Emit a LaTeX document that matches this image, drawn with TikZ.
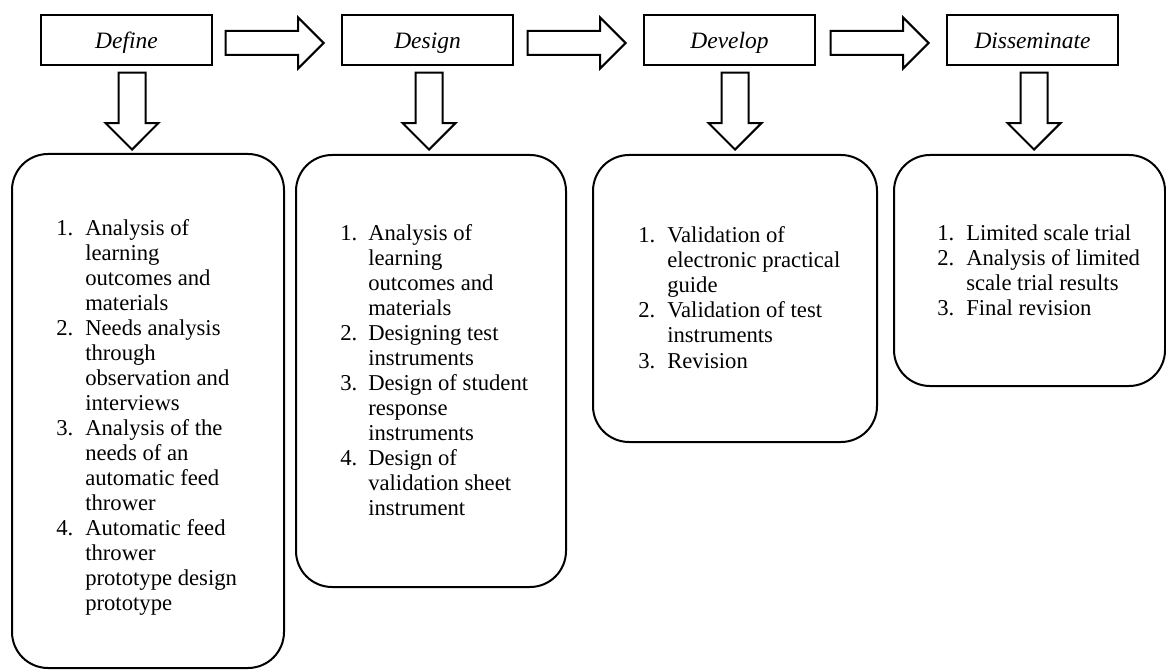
\documentclass[tikz,border=0pt]{standalone}
\usepackage{fontspec}
\setmainfont{Liberation Serif}
\usetikzlibrary{shapes.arrows,calc,positioning}
\tikzstyle{phasebox}=[draw,line width=1.5pt,minimum width=128.25pt,minimum height=37.5pt,
  inner sep=0pt,text height=17pt,text depth=3.5pt,font=\fontsize{17.6}{20}\selectfont\itshape]
\tikzstyle{flowarrow}=[draw,line width=1.5pt,single arrow,single arrow head indent=0pt,
  single arrow head extend=10.125pt,minimum height=73.5pt,inner sep=8.25pt,anchor=tip]
\tikzstyle{downarrow}=[flowarrow,shape border rotate=270,single arrow head extend=9.75pt,
  minimum height=57.75pt,inner sep=9.375pt]
\tikzstyle{listbox}=[draw,line width=1.5pt,rounded corners=27pt,inner sep=0pt]
\tikzstyle{listtext}=[anchor=base west,inner sep=0pt,font=\fontsize{17}{18.75}\selectfont]

\begin{document}
\begin{tikzpicture}[x=0.75pt,y=-0.75pt]
    \useasboundingbox (0,0) rectangle (1166,670);
    % phases
    \node[phasebox] (define) at (126.5,40) {Define};
    \node[phasebox] (design) at (427.5,40) {Design};
    \node[phasebox] (develop) at (729.5,40) {Develop};
    \node[phasebox] (disseminate) at (1032.5,40) {Disseminate};
    \foreach \a/\b in {define/design,design/develop,develop/disseminate}
      {\node[flowarrow] (\a-next) at ($(\b.west)+(-16,3)$) {};}
    \foreach \a/\x in {define/132,design/429,develop/735,disseminate/1034}
      {\node[downarrow] (\a-down) at (\x,151) {};}
    % activity boxes
    \node[listbox,minimum width=204pt,minimum height=385.5pt] (definebox) at (148,411) {};
    \node[listbox,minimum width=202.5pt,minimum height=324pt] (designbox) at (431,371) {};
    \node[listbox,minimum width=213pt,minimum height=215.25pt] (developbox) at (735,298.5) {};
    \node[listbox,minimum width=203.25pt,minimum height=173.25pt] (disseminatebox) at (1029.5,270.5) {};
    \node[listtext] (definelist) at (56,235) {\begin{tabular}[t]{@{}p{21.75pt}@{}l@{}}
      1. & Analysis of\\ & learning\\ & outcomes and\\ & materials\\
      2. & Needs analysis\\ & through\\ & observation and\\ & interviews\\
      3. & Analysis of the\\ & needs of an\\ & automatic feed\\ & thrower\\
      4. & Automatic feed\\ & thrower\\ & prototype design\\ & prototype
    \end{tabular}};
    \node[listtext] (designlist) at (340,240) {\begin{tabular}[t]{@{}p{21pt}@{}l@{}}
      1. & Analysis of\\ & learning\\ & outcomes and\\ & materials\\
      2. & Designing test\\ & instruments\\
      3. & Design of student\\ & response\\ & instruments\\
      4. & Design of\\ & validation sheet\\ & instrument
    \end{tabular}};
    \node[listtext] (developlist) at (638,243) {\begin{tabular}[t]{@{}p{21.75pt}@{}l@{}}
      1. & Validation of\\ & electronic practical\\ & guide\\
      2. & Validation of test\\ & instruments\\
      3. & Revision
    \end{tabular}};
    \node[listtext] (disseminatelist) at (937,240) {\begin{tabular}[t]{@{}p{21.75pt}@{}l@{}}
      1. & Limited scale trial\\
      2. & Analysis of limited\\ & scale trial results\\
      3. & Final revision
    \end{tabular}};
  \end{tikzpicture}
\end{document}
